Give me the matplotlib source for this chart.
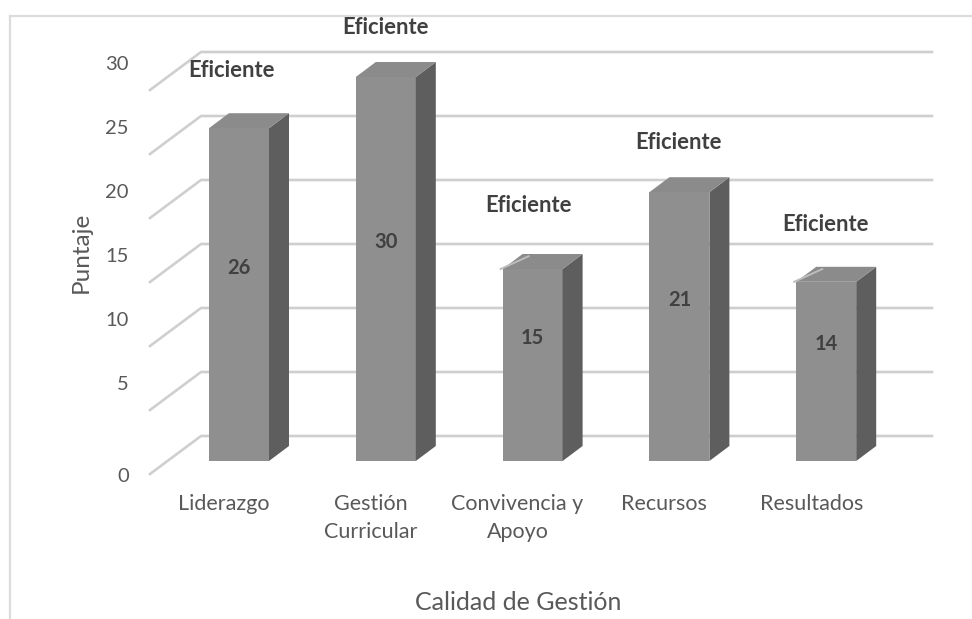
import matplotlib
matplotlib.use("Agg")
import matplotlib.pyplot as plt
from matplotlib.patches import Polygon

plt.rcParams['font.family'] = ['Lato', 'DejaVu Sans']

categories = ['Liderazgo', 'Gestión\nCurricular', 'Convivencia y\nApoyo', 'Recursos', 'Resultados']
scores = [26, 30, 15, 21, 14]
levels = ['Eficiente', 'Eficiente', 'Eficiente', 'Eficiente', 'Eficiente']
wall_ticks = [0, 5, 10, 15, 20, 25, 30]

W, H = 972, 619
PX_X = 146.8      # pixels per category step
PX_Y = 12.8       # pixels per score point
X0, Y0 = 239, 461 # pixel of category 0, score 0 on the bars' front plane

fig = plt.figure(figsize=(W / 100, H / 100), dpi=100, facecolor='white')
ax = fig.add_axes([0, 0, 1, 1])
ax.set_xlim(-X0 / PX_X, (W - X0) / PX_X)
ax.set_ylim((Y0 - H) / PX_Y, Y0 / PX_Y)
ax.axis('off')

def dx(px):
    return px / PX_X

def dy(px):
    return px / PX_Y

GRID = '#cfcfcf'
TEXT = '#595959'
DARK = '#404040'

# Outer chart frame: top and left edges only
ax.plot([dx(10 - X0), dx(W - X0)], [dy(Y0 - 16)] * 2, color='#dcdcdc', lw=1.6, zorder=1)
ax.plot([dx(10 - X0)] * 2, [dy(Y0 - 16), dy(Y0 - H)], color='#dcdcdc', lw=1.6, zorder=1)

# Back wall lines and the diagonal side-wall lines
wall_left, wall_right, floor_left = dx(201 - X0), dx(932 - X0), dx(150 - X0)
wall_rise, floor_drop = dy(25), dy(-13)
for t in wall_ticks:
    ax.plot([floor_left, wall_left, wall_right],
            [t + floor_drop, t + wall_rise, t + wall_rise],
            color=GRID, lw=1.9, solid_joinstyle='miter', zorder=2)

# Box-shaped columns: front face, right side and top
half = dx(30)
dep_x, dep_y = dx(20), dy(15)
for i, v in enumerate(scores):
    ax.bar(i, v, width=2 * half, color='#8f8f8f', linewidth=0, zorder=3)
    ax.add_patch(Polygon([(i + half, 0), (i + half + dep_x, dep_y),
                          (i + half + dep_x, v + dep_y), (i + half, v)],
                         closed=True, fc='#5e5e5e', ec='none', zorder=3))
    ax.add_patch(Polygon([(i - half, v), (i - half + dep_x, v + dep_y),
                          (i + half + dep_x, v + dep_y), (i + half, v)],
                         closed=True, fc='#8b8b8b', ec='none', zorder=3))

# Pale edge left on the shortest columns' top corner
for i in (2, 4):
    v = scores[i]
    ax.plot([i - half - dx(2), i - half + dx(26)], [v, v + dep_y * 0.85],
            color='#bdbdbd', lw=1.4, zorder=4)

# Values centred on the columns, category grade above them
level_dx = [-8, 0, -4, -1, -1]
level_dy = [58, 49, 64, 50, 57]
for i, v in enumerate(scores):
    ax.text(i, v / 2 + dy(27), str(v), ha='center', va='center',
            fontsize=14.5, fontweight='bold', color=DARK, zorder=5)
    ax.text(i + dx(level_dx[i]), v + dy(level_dy[i]), levels[i], ha='center', va='center',
            fontsize=15.8, fontweight='bold', color=DARK, zorder=5)

# Score labels beside the side wall
for t in wall_ticks:
    y = dy(-15) if t == 0 else t + dy(461 - 449)
    ax.text(dx(129 - X0), y, str(t), ha='right', va='center', fontsize=14.5, color=TEXT)

# Category labels
for i, c in enumerate(categories):
    ax.text(i - dx(15), dy(461 - 494), c, ha='center', va='top', fontsize=15.5,
            color=TEXT, linespacing=1.53)

ax.text(dx(81 - X0), dy(461 - 252), 'Puntaje', rotation=90, ha='center', va='center',
        fontsize=17.5, color=TEXT)
ax.text(dx(518 - X0), dy(461 - 603), 'Calidad de Gestión', ha='center', va='center',
        fontsize=18, color=TEXT)

fig.savefig('out.png', dpi=100, facecolor='white')
